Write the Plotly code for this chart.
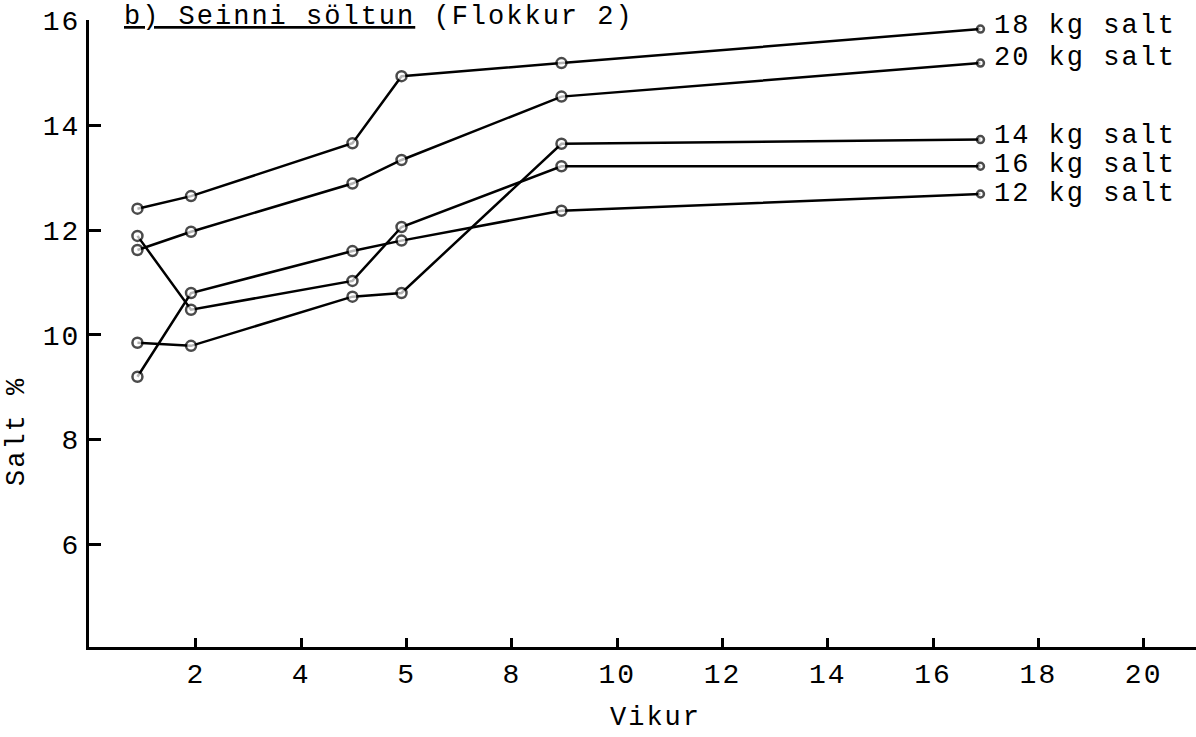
import plotly.graph_objects as go

# x positions on the (evenly spaced, index-based) week axis
x_pos = [0.444, 0.953, 2.486, 2.952, 4.471, 8.45]
tick_pos = [1, 2, 3, 4, 5, 6, 7, 8, 9, 10]
tick_labels = ["2", "4", "5", "8", "10", "12", "14", "16", "18", "20"]

series_names = ["18 kg salt", "20 kg salt", "14 kg salt", "16 kg salt", "12 kg salt"]
salt_18 = [12.41, 12.65, 13.66, 14.94, 15.19, 15.84]
salt_20 = [11.62, 11.97, 12.89, 13.34, 14.55, 15.19]
salt_14 = [9.85, 9.79, 10.73, 10.80, 13.65, 13.73]
salt_16 = [11.89, 10.48, 11.03, 12.06, 13.22, 13.22]
salt_12 = [9.20, 10.80, 11.60, 11.80, 12.37, 12.69]
series_values = [salt_18, salt_20, salt_14, salt_16, salt_12]

y_ticks = [6, 8, 10, 12, 14, 16]

FONT = "Liberation Mono"
FS = 27
SP = "letter-spacing:2px"
label_shift = [3, 5, 4, 1, 0]


def spaced(t):
    return f"<span style='{SP}'>{t}</span>"


fig = go.Figure()
for name, vals, ys in zip(series_names, series_values, label_shift):
    fig.add_trace(go.Scatter(
        x=x_pos, y=vals, mode="lines+markers", name=name,
        line=dict(color="black", width=2.5),
        marker=dict(symbol="circle", size=[10, 10, 10, 10, 10, 7], color="white",
                    line=dict(color="black", width=2.5)),
        showlegend=False, cliponaxis=False,
    ))
    fig.add_annotation(x=x_pos[-1], y=vals[-1], text=spaced(name), showarrow=False,
                       xanchor="left", yanchor="middle", xshift=12, yshift=ys,
                       font=dict(family=FONT, size=FS, color="black"))

fig.add_annotation(x=0.03, y=1.0, xref="paper", yref="paper",
                   text="<span style='text-decoration:underline;" + SP + "'>b) Seinni söltun</span>"
                        + spaced(" (Flokkur 2)"),
                   showarrow=False, xanchor="left", yanchor="middle", yshift=3,
                   font=dict(family=FONT, size=FS, color="black"))

fig.add_annotation(x=0.512, y=-0.113, xref="paper", yref="paper", text=spaced("Vikur"),
                   showarrow=False, xanchor="center", yanchor="middle",
                   font=dict(family=FONT, size=FS, color="black"))
fig.add_annotation(x=-0.065, y=0.343, xref="paper", yref="paper", text=spaced("Salt %"),
                   textangle=-90, showarrow=False, xanchor="center", yanchor="middle",
                   font=dict(family=FONT, size=FS, color="black"))

fig.update_layout(
    width=1196, height=737,
    margin=dict(l=89, r=0, t=20, b=90),
    paper_bgcolor="white", plot_bgcolor="white",
    font=dict(family=FONT, size=FS, color="black"),
    xaxis=dict(range=[-0.016, 10.497], tickvals=tick_pos,
               ticktext=[spaced(t) for t in tick_labels],
               showgrid=False, zeroline=False, showline=True, linecolor="black",
               linewidth=2.5, ticks="inside", ticklen=9, tickwidth=2.5, tickcolor="black",
               tickfont=dict(family=FONT, size=28, color="black")),
    yaxis=dict(range=[4.039, 16.013], tickvals=y_ticks,
               ticktext=[spaced(str(t)) for t in y_ticks],
               showgrid=False, zeroline=False, showline=True, linecolor="black",
               linewidth=3, ticks="inside", ticklen=12, tickwidth=2.5, tickcolor="black",
               tickfont=dict(family=FONT, size=28, color="black")),
)

fig.write_html("out.html")
